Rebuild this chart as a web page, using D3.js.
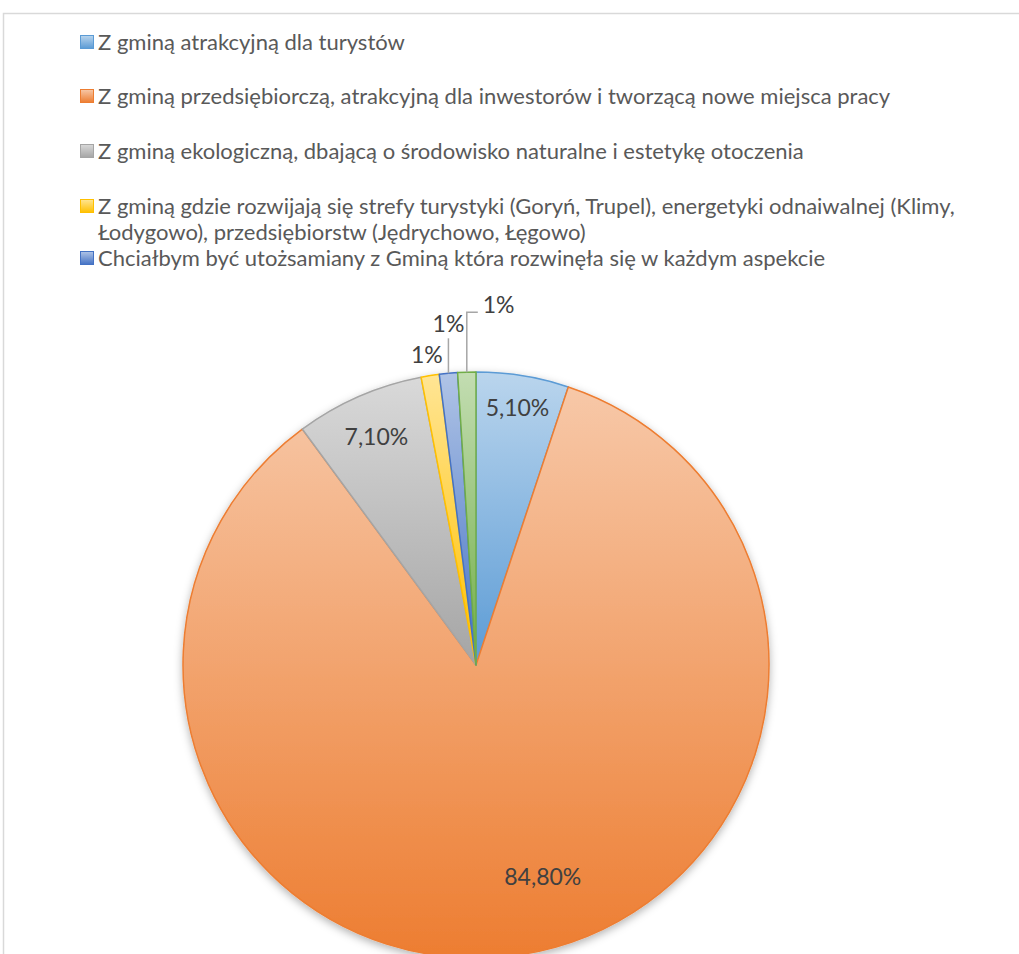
<!DOCTYPE html>
<html>
<head>
<meta charset="utf-8">
<script src="https://cdn.jsdelivr.net/npm/d3@7"></script>
<style>
  body { margin: 0; background: #fff; }
  svg { display: block; font-family: Lato, "Noto Sans", sans-serif; }
</style>
</head>
<body>
<svg id="chart" width="1019" height="954"></svg>
<script>
// legend entries (the 6th slice has no visible legend entry)
const legendLabels = [
    ["Z gminą atrakcyjną dla turystów"],
    ["Z gminą przedsiębiorczą, atrakcyjną dla inwestorów i tworzącą nowe miejsca pracy"],
    ["Z gminą ekologiczną, dbającą o środowisko naturalne i estetykę otoczenia"],
    ["Z gminą gdzie rozwijają się strefy turystyki (Goryń, Trupel), energetyki odnaiwalnej (Klimy,",
     "Łodygowo), przedsiębiorstw (Jędrychowo, Łęgowo)"],
    ["Chciałbym być utożsamiany z Gminą która rozwinęła się w każdym aspekcie"]
];
const values = [5.1, 84.8, 7.1, 1, 1, 1];
const valueLabels = ["5,10%", "84,80%", "7,10%", "1%", "1%", "1%"];
const colors = ["#5B9BD5", "#ED7D31", "#A5A5A5", "#FFC000", "#4472C4", "#70AD47"];

const svg = d3.select("#chart");

// chart area border
svg.append("rect")
    .attr("x", 3.5).attr("y", 13.5)
    .attr("width", 1030).attr("height", 960)
    .attr("fill", "none").attr("stroke", "#d9d9d9").attr("stroke-width", 1.5);

const defs = svg.append("defs");
colors.forEach(function (c, i) {
    let g = defs.append("linearGradient").attr("id", "grad" + i)
        .attr("x1", 0).attr("y1", 0).attr("x2", 0).attr("y2", 1);
    g.append("stop").attr("offset", "0%").attr("stop-color", d3.interpolateRgb(c, "#fff")(0.58));
    g.append("stop").attr("offset", "100%").attr("stop-color", c);
});
let shadow = defs.append("filter").attr("id", "shadow")
    .attr("x", "-10%").attr("y", "-10%").attr("width", "120%").attr("height", "120%");
shadow.append("feDropShadow").attr("dx", 0).attr("dy", 3).attr("stdDeviation", 4)
    .attr("flood-color", "#000").attr("flood-opacity", 0.3);

// legend
let legend = svg.append("g");
const legendRows = [42, 96, 151, 206, 258];
legendLabels.forEach(function (lines, i) {
    let y = legendRows[i];
    legend.append("rect")
        .attr("x", 80.5).attr("y", y - 6.5)
        .attr("width", 13).attr("height", 13)
        .attr("fill", "url(#grad" + i + ")")
        .attr("stroke", colors[i]).attr("stroke-width", 1);
    lines.forEach(function (t, j) {
        legend.append("text")
            .attr("x", 98).attr("y", y + j * 26)
            .attr("dy", "0.35em")
            .attr("font-size", 22)
            .attr("fill", "#595959")
            .text(t);
    });
});

// pie
const cx = 476, cy = 665, R = 293;
const pie = d3.pie().sort(null).value(function (d) { return d; });
const arc = d3.arc().innerRadius(0).outerRadius(R);
const arcs = pie(values);

let g = svg.append("g").attr("transform", "translate(" + cx + "," + cy + ")");
g.append("g").attr("filter", "url(#shadow)")
    .selectAll("path").data(arcs).enter().append("path")
    .attr("d", arc)
    .attr("fill", function (d, i) { return "url(#grad" + i + ")"; })
    .attr("stroke", function (d, i) { return colors[i]; })
    .attr("stroke-width", 1.5)
    .attr("stroke-linejoin", "round");

// data labels
function polar(r, angle) {
    return [r * Math.sin(angle), -r * Math.cos(angle)];
}
const deg = Math.PI / 180;
// label placement: inside labels by radius (and optional angle), outside ones via leader lines
const placement = [
    { r: 260 },
    { r: 222, angle: 162.5 * deg },
    { r: 249 },
    { r: 314 },
    { leader: true, up: 35, dx: 0, dy: -49, anchor: "middle" },
    { leader: true, up: 60, dx: 11, dy: -67, anchor: "start" }
];
let labels = g.append("g");
arcs.forEach(function (d, i) {
    let p = placement[i];
    let mid = (d.startAngle + d.endAngle) / 2;
    if (p.leader) {
        let a = polar(R, mid);
        let pts = [[a[0], a[1]], [a[0], a[1] - p.up]];
        if (p.dx) pts.push([a[0] + p.dx, a[1] - p.up]);
        labels.append("path")
            .attr("d", d3.line()(pts))
            .attr("fill", "none").attr("stroke", "#a6a6a6").attr("stroke-width", 1.5);
        labels.append("text")
            .attr("x", a[0] + (p.dx ? p.dx + 5 : 0)).attr("y", a[1] + p.dy)
            .attr("dy", "0.35em").attr("text-anchor", p.anchor)
            .attr("font-size", 23).attr("fill", "#404040")
            .text(valueLabels[i]);
    } else {
        let c = polar(p.r, p.angle !== undefined ? p.angle : mid);
        labels.append("text")
            .attr("x", c[0]).attr("y", c[1])
            .attr("dy", "0.35em").attr("text-anchor", "middle")
            .attr("font-size", 23).attr("fill", "#404040")
            .text(valueLabels[i]);
    }
});
</script>
</body>
</html>
